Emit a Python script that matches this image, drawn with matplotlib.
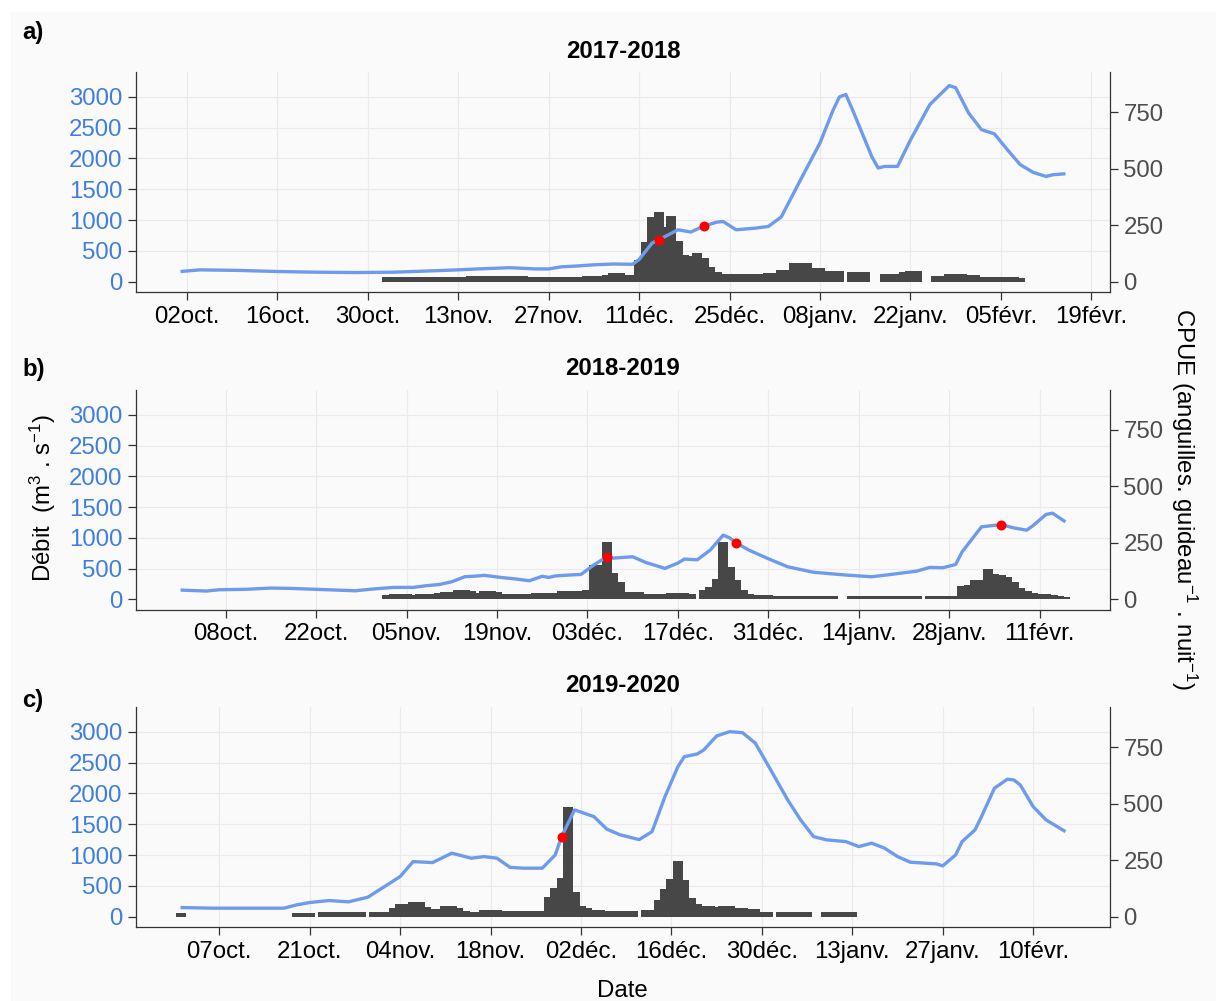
import numpy as np
import pandas as pd
import matplotlib
matplotlib.use("Agg")
import matplotlib.pyplot as plt
import matplotlib.dates as mdates
from matplotlib.ticker import FixedLocator, FuncFormatter
from matplotlib.patches import Rectangle
from datetime import datetime, timedelta

plt.rcParams['font.family'] = ['Liberation Sans', 'DejaVu Sans']
plt.rcParams['mathtext.fontset'] = 'custom'
plt.rcParams['mathtext.rm'] = 'Liberation Sans'
plt.rcParams['mathtext.it'] = 'Liberation Sans:italic'
plt.rcParams['mathtext.bf'] = 'Liberation Sans:bold'

nan = np.nan

# ---------------- 2017-2018 ----------------
debit_a_dates = ["2017-10-01", "2017-10-04", "2017-10-10", "2017-10-16", "2017-10-22", "2017-10-28",
                 "2017-11-03", "2017-11-09", "2017-11-13", "2017-11-16", "2017-11-21", "2017-11-25",
                 "2017-11-27", "2017-11-29", "2017-12-01", "2017-12-04", "2017-12-07", "2017-12-10",
                 "2017-12-11", "2017-12-13", "2017-12-14", "2017-12-15", "2017-12-17", "2017-12-19",
                 "2017-12-21", "2017-12-23", "2017-12-24", "2017-12-26", "2017-12-29", "2017-12-31",
                 "2018-01-02", "2018-01-05", "2018-01-08", "2018-01-10", "2018-01-11", "2018-01-12",
                 "2018-01-13", "2018-01-16", "2018-01-17", "2018-01-18", "2018-01-20", "2018-01-22",
                 "2018-01-25", "2018-01-28", "2018-01-29", "2018-01-31", "2018-02-02", "2018-02-04",
                 "2018-02-06", "2018-02-08", "2018-02-10", "2018-02-12", "2018-02-13", "2018-02-15"]
debit_a = [163, 190, 181, 163, 152, 146,
           152, 174, 190, 205, 225, 205,
           205, 240, 250, 272, 285, 280,
           360, 625, 678, 730, 841, 805,
           900, 965, 976, 841, 868, 895,
           1050, 1655, 2252, 2780, 3000, 3040,
           2800, 2034, 1845, 1871, 1871, 2300,
           2875, 3184, 3150, 2740, 2468, 2400,
           2143, 1900, 1774, 1708, 1735, 1752]
cpue_a_start = "2017-11-02"
cpue_a = [21, 21, 22, 22, 21, 21, 21,
          22, 22, 22, 21, 22, 22, 23,
          23, 23, 24, 24, 24, 23, 23,
          23, 22, 22, 22, 21, 22, 22,
          22, 22, 22, 23, 23, 23,            # -> Dec 5
          27, 38, 38, 29, 29,                # Dec 6-10
          94, 175, 285, 310, 240, 292, 178, 118, 113, 126, 105, 64, 44,   # Dec 11-23
          33, 33, 32, 32, 33, 34, 34, 36, 37,  # Dec 24 - Jan 1
          50, 50, 80, 80, 80, 62, 62, 48, 48, 48,   # Jan 2-11
          nan, 41, 41, 41, nan, nan, 33, 33, 33, 41, 47, 47,   # Jan 12-23
          nan, nan, 25, 25, 32, 32, 32, 29, 29,     # Jan 24 - Feb 1
          22, 22, 22, 19, 18, 18, 17]               # Feb 2-8
pts_a_dates = ["2017-12-14", "2017-12-21"]
pts_a = [678, 906]

# ---------------- 2018-2019 ----------------
debit_b_dates = ["2018-10-01", "2018-10-05", "2018-10-07", "2018-10-11", "2018-10-15", "2018-10-18",
                 "2018-10-22", "2018-10-28", "2018-10-31", "2018-11-03", "2018-11-06", "2018-11-08",
                 "2018-11-10", "2018-11-12", "2018-11-14", "2018-11-16", "2018-11-17", "2018-11-20",
                 "2018-11-22", "2018-11-24", "2018-11-26", "2018-11-27", "2018-11-28", "2018-11-30",
                 "2018-12-02", "2018-12-04", "2018-12-06", "2018-12-07", "2018-12-10", "2018-12-12",
                 "2018-12-15", "2018-12-17", "2018-12-18", "2018-12-20", "2018-12-22", "2018-12-24",
                 "2018-12-25", "2018-12-26", "2018-12-28", "2018-12-31", "2019-01-03", "2019-01-07",
                 "2019-01-12", "2019-01-16", "2019-01-19", "2019-01-23", "2019-01-25", "2019-01-27",
                 "2019-01-29", "2019-01-30", "2019-01-31", "2019-02-02", "2019-02-05", "2019-02-07",
                 "2019-02-09", "2019-02-10", "2019-02-12", "2019-02-13", "2019-02-15"]
debit_b = [151, 135, 156, 163, 183, 178,
           163, 139, 170, 194, 194, 221,
           240, 286, 367, 380, 390, 351,
           330, 302, 375, 356, 380, 394,
           405, 560, 692, 670, 692, 600,
           503, 590, 654, 643, 800, 1043,
           1000, 918, 800, 660, 529, 440,
           395, 367, 405, 459, 519, 513,
           567, 772, 908, 1178, 1215, 1161,
           1124, 1200, 1380, 1400, 1259]
cpue_b_start = "2018-11-02"
cpue_b = [21, 22, 22, 22, 21, 22, 23, 24,          # Nov 2-9
          30, 33, 33, 42, 42, 36, 28, 39, 39, 33,  # Nov 10-19
          25, 25, 25, 24, 25, 28, 28, 28, 28,      # Nov 20-28
          36, 36, 39, 39, 40,                      # Nov 29 - Dec 3
          152, 150, 255, 117, 76, 33, 33, 32,      # Dec 4-11
          25, 25, 24, 25, 28, 30, 30, 25, nan,     # Dec 12-20
          40, 55, 88, 255, 144, 85, 40, 22,        # Dec 21-28
          18, 18, 18, 14, 14, 15, 15, 15, 15,      # Dec 29 - Jan 6
          13, 13, 13, 13, nan, nan, 13, 13, 13, 13,  # Jan 7-16
          17, 17, 17, 13, 13, 13, 13, nan,         # Jan 17-24
          13, 13, 13, 13, 13,                      # Jan 25-29
          57, 62, 85, 85, 135, 114, 110, 100, 75,  # Jan 30 - Feb 7
          52, 38, 30, 25, 25, 18, 15, 12]          # Feb 8-15
pts_b_dates = ["2018-12-06", "2018-12-26", "2019-02-05"]
pts_b = [692, 918, 1215]

# ---------------- 2019-2020 ----------------
debit_c_dates = ["2019-10-01", "2019-10-06", "2019-10-14", "2019-10-17", "2019-10-19", "2019-10-21",
                 "2019-10-24", "2019-10-27", "2019-10-30", "2019-11-02", "2019-11-04", "2019-11-06",
                 "2019-11-09", "2019-11-12", "2019-11-15", "2019-11-17", "2019-11-19", "2019-11-21",
                 "2019-11-23", "2019-11-26", "2019-11-28", "2019-11-29", "2019-11-30", "2019-12-01",
                 "2019-12-04", "2019-12-06", "2019-12-08", "2019-12-11", "2019-12-13", "2019-12-15",
                 "2019-12-17", "2019-12-18", "2019-12-20", "2019-12-21", "2019-12-23", "2019-12-25",
                 "2019-12-27", "2019-12-29", "2019-12-31", "2020-01-03", "2020-01-05", "2020-01-07",
                 "2020-01-09", "2020-01-12", "2020-01-14", "2020-01-16", "2020-01-18", "2020-01-20",
                 "2020-01-22", "2020-01-26", "2020-01-27", "2020-01-29", "2020-01-30", "2020-02-01",
                 "2020-02-02", "2020-02-04", "2020-02-06", "2020-02-07", "2020-02-08", "2020-02-10",
                 "2020-02-12", "2020-02-15"]
debit_c = [146, 136, 136, 136, 190, 228,
           260, 239, 315, 515, 650, 893,
           877, 1030, 948, 974, 948, 800,
           786, 786, 1000, 1299, 1517, 1733,
           1624, 1420, 1330, 1250, 1380, 1949,
           2436, 2598, 2642, 2707, 2935, 3004,
           2988, 2816, 2450, 1895, 1570, 1299,
           1246, 1218, 1137, 1192, 1111, 974,
           883, 856, 823, 1002, 1218, 1408,
           1624, 2085, 2231, 2220, 2139, 1786,
           1570, 1380]
cpue_c_start = "2019-10-01"
cpue_c = [16] + [nan] * 17 + [16, 16, 16, nan] + [18] * 7 + [nan] + \
         [18, 18, 18, 39, 55, 55, 65, 65, 43, 33, 33, 46, 46, 39,   # Oct 31 - Nov 13
          24, 21, 21, 28, 28, 27,                                   # Nov 14-19
          25, 25, 24, 24, 24, 24, 25,                               # Nov 20-26
          88, 125, 172, 485, 110, 48, 36, 28, 28,                   # Nov 27 - Dec 5
          24, 24, 24, 24, 24, nan, 28, 28,                          # Dec 6-13
          73, 122, 167, 247, 162, 80, 54, 48, 48, 43, 48, 48,       # Dec 14-25
          40, 40, 33, 33, 21, 21, nan,                              # Dec 26 - Jan 1
          18, 18, 18, 18, 18, nan, nan, 18, 18, 18, 18, 18]         # Jan 2-13
pts_c_dates = ["2019-11-29"]
pts_c = [1299]

seasons = ["2017-2018", "2018-2019", "2019-2020"]
letters = ["a)", "b)", "c)"]
tick_starts = ["2017-10-02", "2018-10-08", "2019-10-07"]
debit_ticks = [0, 500, 1000, 1500, 2000, 2500, 3000]
cpue_ticks = [0, 250, 500, 750]

MOIS = {1: "janv.", 2: "févr.", 10: "oct.", 11: "nov.", 12: "déc."}
K = 3.67
YLIM = (-165, 3410)
BG = "#fafafa"
GRID = "#ebebeb"
LINE = "#6f9bec"
BAR = "#474747"
BLUE = "#3f7ee0"
SPINE = "#333333"
FS = 17.3

W, H = 1216, 1001
fig = plt.figure(figsize=(W / 100, H / 100), dpi=100, facecolor="white")
fig.patches.append(Rectangle((11 / W, 0), 1 - 11 / W, 1 - 12 / H, transform=fig.transFigure,
                             facecolor=BG, edgecolor="none", zorder=-10))


def fmt_date(x, pos):
    d = mdates.num2date(x)
    return f"{d.day:02d}{MOIS[d.month]}"


def panel(top_px, dates, debit, cstart, cpue, pdates, pts, tstart, season, letter, title_y, letter_y):
    rect = [136.4 / W, 1 - (top_px + 220) / H, 973.2 / W, 220 / H]
    ax = fig.add_axes(rect)
    ax.set_facecolor("none")
    # bars: CPUE (right axis)
    days = pd.date_range(cstart, periods=len(cpue), freq="D")
    cp = np.array(cpue, dtype=float)
    ok = ~np.isnan(cp)
    ax.bar(days[ok], cp[ok], width=1.55, color=BAR, linewidth=0, zorder=2)
    ax.set_ylim(YLIM[0] / K, YLIM[1] / K)

    t0 = datetime.strptime(tstart, "%Y-%m-%d")
    ticks = [t0 + timedelta(days=14 * i) for i in range(11)]
    y0 = t0.year
    xmin, xmax = datetime(y0, 9, 24, 4), datetime(y0 + 1, 2, 21, 20)
    ticks = [t for t in ticks if t <= xmax]

    # line: Débit (left axis)
    ax2 = ax.twinx()
    ax2.plot(pd.to_datetime(dates), debit, color=LINE, lw=2.4, zorder=3,
             solid_joinstyle="round", solid_capstyle="butt")
    ax2.plot(pd.to_datetime(pdates), pts, "o", color="#ff0000", ms=7.2, mec="none", zorder=4)
    ax2.set_ylim(YLIM)
    ax2.set_yticks(debit_ticks)
    for s in ax2.spines.values():
        s.set_visible(False)

    # put CPUE ticks right, Débit ticks left (after twinx)
    ax.yaxis.tick_right()
    ax2.yaxis.tick_left()
    ax.set_yticks(cpue_ticks)
    ax.set_yticks(np.array(debit_ticks) / K, minor=True)
    ax.grid(which="minor", axis="y", color=GRID, lw=0.9)
    ax.grid(which="major", axis="x", color=GRID, lw=0.9)
    ax.set_axisbelow(True)
    ax.tick_params(axis="y", which="minor", length=0, left=False, right=False)
    ax.tick_params(axis="y", which="major", direction="out", length=6, width=0.9, color=SPINE,
                   labelsize=FS, labelcolor="#4d4d4d", pad=4, left=False, labelleft=False,
                   right=True, labelright=True)
    ax.tick_params(axis="x", direction="out", length=6, width=0.9, color=SPINE,
                   labelsize=FS, labelcolor="black", pad=4)
    ax2.tick_params(axis="y", direction="out", length=6, width=0.9, color=SPINE,
                    labelsize=FS, labelcolor=BLUE, pad=4, right=False, labelright=False,
                    left=True, labelleft=True)

    ax.xaxis.set_major_locator(FixedLocator(mdates.date2num(ticks)))
    ax.xaxis.set_major_formatter(FuncFormatter(fmt_date))
    ax.set_xlim(xmin, xmax)
    ax2.set_xlim(xmin, xmax)

    for s in ["left", "right", "bottom"]:
        ax.spines[s].set_color(SPINE)
        ax.spines[s].set_linewidth(0.9)
    ax.spines["top"].set_visible(False)

    fig.text(0.5 * (136.4 + 1109.6) / W, 1 - title_y / H, season, ha="center", va="baseline",
             fontsize=FS, fontweight="bold")
    fig.text(22 / W, 1 - letter_y / H, letter, ha="left", va="center", fontsize=FS, fontweight="bold")


panel(71.7, debit_a_dates, debit_a, cpue_a_start, cpue_a, pts_a_dates, pts_a,
      tick_starts[0], seasons[0], letters[0], 57.5, 33)
panel(389.5, debit_b_dates, debit_b, cpue_b_start, cpue_b, pts_b_dates, pts_b,
      tick_starts[1], seasons[1], letters[1], 375, 369)
panel(706.7, debit_c_dates, debit_c, cpue_c_start, cpue_c, pts_c_dates, pts_c,
      tick_starts[2], seasons[2], letters[2], 691.5, 701)

fig.text(42.5 / W, 1 - 497.5 / H, "Débit  (m$^3$ . s$^{-1}$)", rotation=90, ha="center", va="center",
         fontsize=FS)
fig.text(1184 / W, 1 - 499 / H, "CPUE (anguilles. guideau$^{-1}$ . nuit$^{-1}$)", rotation=270,
         ha="center", va="center", fontsize=FS)
fig.text(622 / W, 1 - 991 / H, "Date", ha="center", va="center", fontsize=FS)

fig.savefig("out.png", dpi=100, facecolor=fig.get_facecolor())
